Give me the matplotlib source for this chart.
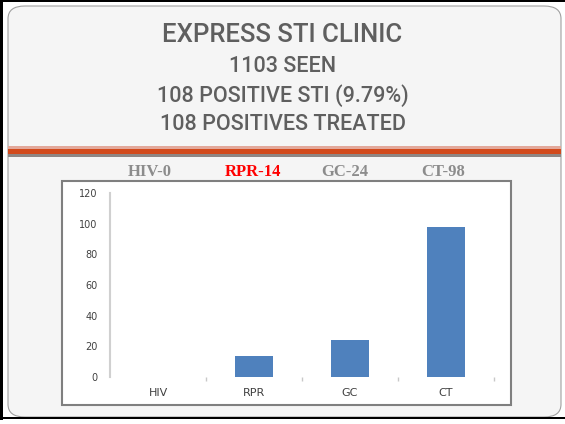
import matplotlib.pyplot as plt
from matplotlib.patches import Rectangle, FancyBboxPatch

# ------------------------------------------------------------
# Express STI clinic - positives by test
# ------------------------------------------------------------

title_lines = ["EXPRESS STI CLINIC", "1103 SEEN", "108 POSITIVE STI (9.79%)", "108 POSITIVES TREATED"]
categories = ["HIV", "RPR", "GC", "CT"]
positives = [0, 14, 24, 98]
header_labels = ["HIV-0", "RPR-14", "GC-24", "CT-98"]
header_colors = ["#8c8c8c", "#ff0000", "#8c8c8c", "#8c8c8c"]
y_ticks = [0, 20, 40, 60, 80, 100, 120]

W, H = 565, 424
fig = plt.figure(figsize=(W / 100, H / 100), dpi=100)
fig.patch.set_facecolor("white")

def fx(px):
    return px / W

def fy(py):
    return 1 - py / H

# Slide background with rounded corners
slide = FancyBboxPatch((fx(8), fy(417)), fx(553), (417 - 6) / H,
                       boxstyle="round,pad=0,rounding_size=0.03",
                       transform=fig.transFigure, facecolor="#f5f5f5",
                       edgecolor="#a0a0a0", linewidth=0.8, zorder=0)
fig.patches.append(slide)

# Outer black frame
for (x0, y0, w, h) in [(0, 0, 3, 420), (0, 0, 565, 2), (0, 417, 565, 2)]:
    fig.patches.append(Rectangle((fx(x0), fy(y0 + h)), fx(w), h / H,
                                 transform=fig.transFigure, facecolor="black",
                                 edgecolor="none", zorder=1))

# Title text
title_font = ["Roboto", "Liberation Sans", "DejaVu Sans"]
title_y = [34.5, 67, 96, 124.5]
title_size = [18.5, 15.5, 15.5, 15.5]
for line, yy, sz in zip(title_lines, title_y, title_size):
    fig.text(0.5, fy(yy), line, ha="center", va="center", fontsize=sz,
             color="#5f5f5f", family=title_font, fontweight="medium")

# Divider bands under the title
bands = [(146, 149, "#e3a89a"), (149, 154, "#d24a1c"), (154, 157, "#8e8684")]
for top, bottom, col in bands:
    fig.patches.append(Rectangle((fx(8), fy(bottom)), fx(553), (bottom - top) / H,
                                 transform=fig.transFigure, facecolor=col,
                                 edgecolor="none", zorder=1))

# Header counts
header_x = [150, 253, 345, 443]
for lab, xx, col in zip(header_labels, header_x, header_colors):
    fig.text(fx(xx), fy(172.5), lab, ha="center", va="center", fontsize=12,
             fontweight="bold", color=col, family=["Liberation Serif", "DejaVu Serif"])

# White chart box
fig.patches.append(Rectangle((fx(62), fy(405)), fx(449), (405 - 181) / H,
                             transform=fig.transFigure, facecolor="white",
                             edgecolor="#7f7f7f", linewidth=1.5, zorder=1))

# Bar chart
ax = fig.add_axes([fx(110), fy(377), fx(384), (377 - 193) / H])
ax.set_zorder(3)
ax.set_facecolor("none")
ax.bar(range(len(categories)), positives, width=0.39, color="#4f81bd")
ax.set_xlim(-0.5, 3.5)
ax.set_ylim(0, 120)
ax.set_yticks(y_ticks)
ax.set_yticklabels([str(v) for v in y_ticks], fontsize=7, color="#404040")
ax.set_xticks(range(len(categories)))
ax.set_xticklabels(categories, fontsize=8, color="#404040")
ax.set_xticks([0.5, 1.5, 2.5, 3.5], minor=True)
ax.tick_params(axis="x", which="major", length=0, pad=8)
ax.tick_params(axis="x", which="minor", length=3, color="#c8c8c8", width=1, direction="out")
ax.tick_params(axis="y", length=0, pad=9)
for side in ["top", "right", "bottom"]:
    ax.spines[side].set_visible(False)
ax.spines["left"].set_color("#d0d0d0")
ax.spines["left"].set_linewidth(1.5)

plt.savefig("out.png", dpi=100)
